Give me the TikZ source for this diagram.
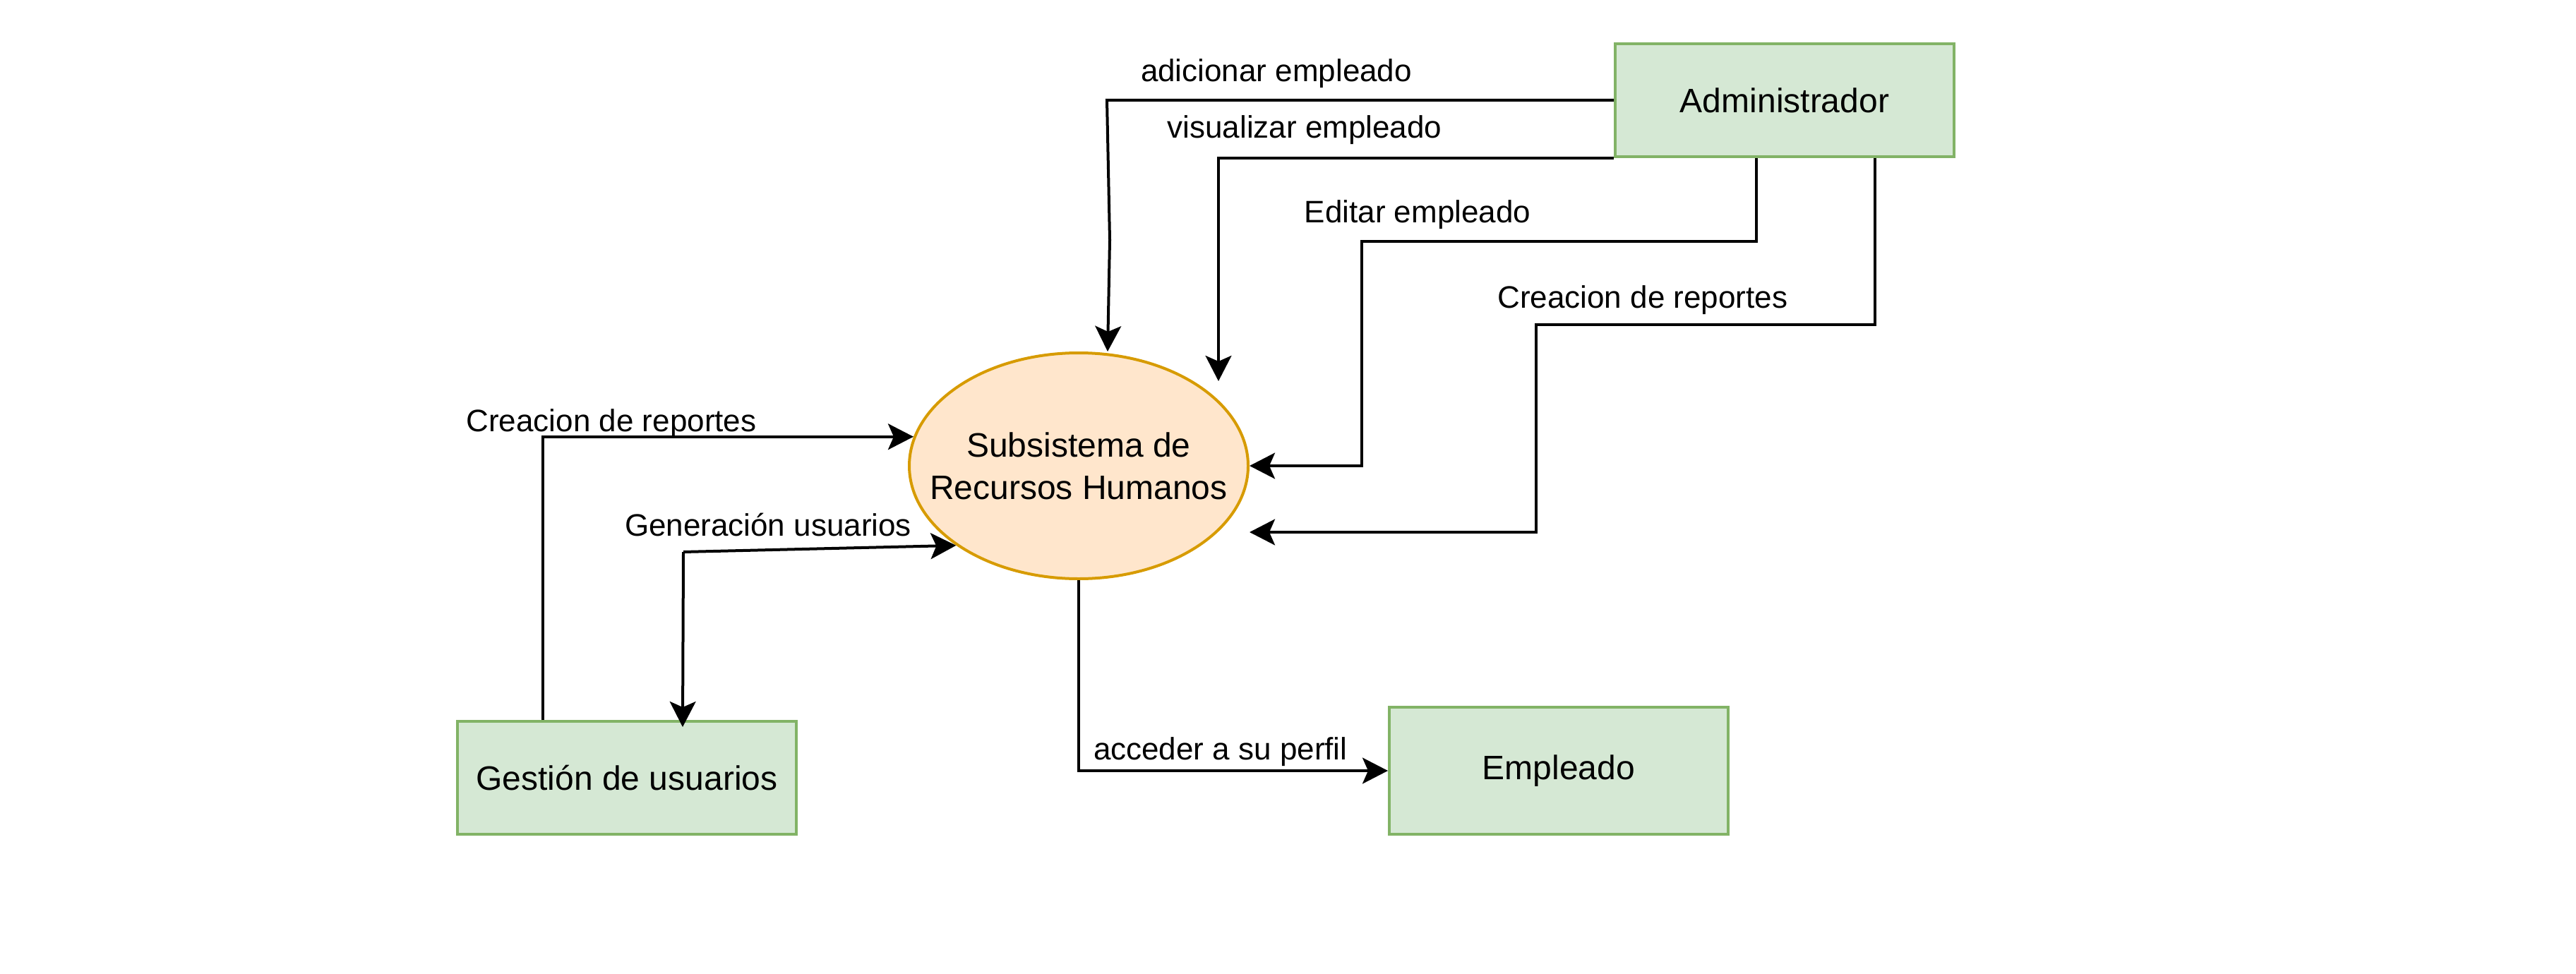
\documentclass[tikz,border=0pt]{standalone}
\usepackage{fontspec}
\setmainfont{Liberation Sans}
\usetikzlibrary{arrows.meta,shapes.geometric}
\definecolor{gfill}{HTML}{D5E8D4}
\definecolor{gdraw}{HTML}{82B366}
\definecolor{ofill}{HTML}{FFE6CC}
\definecolor{odraw}{HTML}{D79B00}
\tikzset{
  box/.style={draw=gdraw, fill=gfill, line width=1pt, inner sep=0pt, minimum width=120pt, font=\fontsize{12}{14.4}\selectfont},
  proc/.style={ellipse, draw=odraw, fill=ofill, line width=1pt, inner sep=0pt, minimum width=120pt, minimum height=80pt},
  proctext/.style={align=center, inner sep=0pt, font=\fontsize{12}{15}\selectfont},
  conn/.style={line width=1pt, line join=miter},
  tip/.style={-{Stealth[length=9pt, width=9.2pt, inset=2pt]}},
  lbl/.style={inner sep=0pt, font=\fontsize{11}{13}\selectfont}
}
\begin{document}
\begin{tikzpicture}[x=1pt, y=-1pt]
\useasboundingbox (0,0) rectangle (912.25,345);
\node[box, minimum height=40pt] (admin) at (632,35.5) {Administrador};
\node[box, minimum height=40pt] (gest) at (222,275.5) {Gestión de usuarios};
\node[box, minimum height=45pt] (emp) at (552,273) {Empleado};
\node[proc, label={[proctext]center:Subsistema de\\Recursos Humanos}] (ss) at (382,165) {};

\coordinate (visend) at (431.5,135);
\coordinate (repend) at (442.5,188.5);
\coordinate (genbend) at (242,195.5);

% adicionar empleado
\draw[conn, tip] (admin.west) -- (392,35.5) -- (393,85) -- (ss.north -| 392.25,0);
% visualizar empleado
\draw[conn, tip] (admin.south west) -| (visend);
% Editar empleado
\draw[conn, tip] ([xshift=-10pt]admin.south) |- (482.3,85.5) |- (ss.east);
% Creacion de reportes (right)
\draw[conn, tip] ([xshift=32pt]admin.south) |- (544,115) |- (repend);
% Creacion de reportes (left)
\draw[conn, tip] ([xshift=-29.75pt]gest.north) |- (ss.170);
% Generacion usuarios
\draw[conn, tip] (genbend) -- (ss.213);
\draw[conn, tip] (genbend) -- ([xshift=19.75pt, yshift=-2.5pt]gest.north);
% acceder a su perfil
\draw[conn, tip] (ss.south) |- (emp.west);

\node[lbl] (l1) at (452,26) {adicionar empleado};
\node[lbl] (l2) at (462,46) {visualizar empleado};
\node[lbl] (l3) at (502,76) {Editar empleado};
\node[lbl] (l4) at (581.7,106.3) {Creacion de reportes};
\node[lbl] (l5) at (216.5,150) {Creacion de reportes};
\node[lbl] (l6) at (272,185.8) {Generación usuarios};
\node[lbl] (l7) at (432.2,266.3) {acceder a su perfil};
\end{tikzpicture}
\end{document}
